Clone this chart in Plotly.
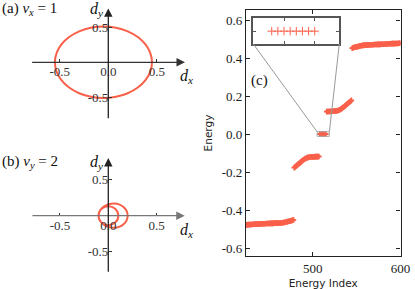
import plotly.graph_objects as go

# ---------------- data ----------------
# panel (a): d-vector curve, winding nu_x = 1
curve_a_dx = [0.450, 0.433, 0.383, 0.304, 0.200, 0.079, -0.050, -0.179, -0.300, -0.404, -0.483, -0.533,
              -0.550, -0.533, -0.483, -0.404, -0.300, -0.179, -0.050, 0.079, 0.200, 0.304, 0.383, 0.433, 0.450]
curve_a_dy = [0.000, 0.132, 0.255, 0.361, 0.442, 0.493, 0.510, 0.493, 0.442, 0.361, 0.255, 0.132,
              0.000, -0.132, -0.255, -0.361, -0.442, -0.493, -0.510, -0.493, -0.442, -0.361, -0.255, -0.132, 0.000]

# panel (b): d-vector curve, winding nu_y = 2
curve_b_dx = [0.200, 0.160, 0.061, -0.043, -0.098, -0.080, -0.007, 0.071, 0.104,
              0.071, -0.007, -0.080, -0.098, -0.043, 0.061, 0.160, 0.200]
curve_b_dy = [0.000, 0.116, 0.168, 0.129, 0.025, -0.083, -0.132, -0.096, 0.000,
              0.096, 0.132, 0.083, -0.025, -0.129, -0.168, -0.116, 0.000]

# panel (c): energies vs index
band1_start = 424
band1_energy = [-0.478, -0.478, -0.477, -0.477, -0.477, -0.476, -0.476, -0.476, -0.475, -0.475, -0.475,
                -0.474, -0.474, -0.474, -0.474, -0.473, -0.473, -0.473, -0.473, -0.472, -0.472, -0.472, -0.472,
                -0.471, -0.471, -0.471, -0.471, -0.470, -0.470, -0.470, -0.470, -0.470, -0.469, -0.469, -0.469,
                -0.469, -0.469, -0.468, -0.468, -0.468, -0.468, -0.467, -0.467, -0.466, -0.465, -0.464, -0.463,
                -0.461, -0.460, -0.459, -0.458, -0.457, -0.456, -0.454, -0.452]
band2_start = 479
band2_energy = [-0.177, -0.173, -0.169, -0.165, -0.161, -0.157, -0.153, -0.149, -0.145, -0.141,
                -0.137, -0.134, -0.131, -0.128, -0.126, -0.124, -0.123, -0.122, -0.121, -0.121,
                -0.120, -0.120, -0.120, -0.120, -0.119, -0.119, -0.119, -0.119, -0.118]
zero_start = 508
zero_energy = [0.0, 0.0, 0.0, 0.0, 0.0, 0.0, 0.0, 0.0]
band3_start = 516
band3_energy = [0.118, 0.119, 0.119, 0.119, 0.119, 0.120, 0.120, 0.120, 0.120, 0.121,
                0.121, 0.122, 0.123, 0.124, 0.126, 0.128, 0.131, 0.134, 0.137, 0.141,
                0.145, 0.149, 0.153, 0.157, 0.161, 0.165, 0.169, 0.173, 0.177]
band4_start = 545
band4_energy = [0.452, 0.454, 0.456, 0.457, 0.458, 0.459, 0.460, 0.461, 0.463, 0.464,
                0.465, 0.466, 0.467, 0.467, 0.468, 0.468, 0.468, 0.469, 0.469, 0.469,
                0.469, 0.470, 0.470, 0.470, 0.470, 0.471, 0.471, 0.471, 0.471, 0.472,
                0.472, 0.472, 0.472, 0.473, 0.473, 0.473, 0.473, 0.474, 0.474, 0.474,
                0.474, 0.475, 0.475, 0.475, 0.475, 0.476, 0.476, 0.476, 0.476, 0.477,
                0.477, 0.477, 0.477, 0.478, 0.478, 0.478]

d_ticks_x = [-0.5, 0.0, 0.5]
d_ticklabels_x = ["-0.5", "0.0", "0.5"]
d_ticks_y = [-0.5, 0.5]
d_ticklabels_y = ["-0.5", "0.5"]
energy_ticks = [-0.6, -0.4, -0.2, 0.0, 0.2, 0.4, 0.6]
energy_ticklabels = ["-0.6", "-0.4", "-0.2", "0.0", "0.2", "0.4", "0.6"]
index_ticks = [500, 600]
inset_xticks = [510, 515]
inset_yticks = [0.0]

# ---------------- layout constants ----------------
W, H = 415, 289
RED = "#f9604a"
SERIF = "Liberation Serif, DejaVu Serif, serif"
SANS = "DejaVu Sans, sans-serif"


def fx(p):
    return p / W


def fy(p):
    return 1 - p / H


dom_a_x = [fx(25.8), fx(190.8)]
dom_a_y = [fy(121.8), fy(2.8)]
dom_b_x = [fx(26.1), fx(190.5)]
dom_b_y = [fy(276.9), fy(154.5)]
dom_c_x = [fx(246), fx(400.5)]
dom_c_y = [fy(256), fy(10)]
dom_i_x = [fx(253.3), fx(339.3)]
dom_i_y = [fy(44), fy(18.3)]

rng_d = [-0.85, 0.85]
rng_c_x = [424, 600]
rng_c_y = [-0.642, 0.653]
rng_i_x = [505, 519]
rng_i_y = [-1, 1]
box_half_h = 0.012

fig = go.Figure()

# panels (a), (b)
fig.add_trace(go.Scatter(x=curve_a_dx, y=curve_a_dy, mode="lines", line=dict(color=RED, width=2, shape="spline"),
                         xaxis="x", yaxis="y", showlegend=False, hoverinfo="skip"))
fig.add_trace(go.Scatter(x=curve_b_dx, y=curve_b_dy, mode="lines", line=dict(color=RED, width=2, shape="spline"),
                         xaxis="x2", yaxis="y2", showlegend=False, hoverinfo="skip"))

# panel (c)
bands = [(band1_start, band1_energy), (band2_start, band2_energy), (zero_start, zero_energy),
         (band3_start, band3_energy), (band4_start, band4_energy)]
for start, vals in bands:
    fig.add_trace(go.Scatter(x=list(range(start, start + len(vals))), y=vals, mode="markers",
                             marker=dict(symbol="cross-thin", size=4, color=RED, line=dict(color=RED, width=1.8)),
                             xaxis="x3", yaxis="y3", showlegend=False, hoverinfo="skip"))

# inset
fig.add_trace(go.Scatter(x=list(range(zero_start, zero_start + len(zero_energy))), y=zero_energy, mode="markers",
                         marker=dict(symbol="cross-thin", size=6, color=RED, line=dict(color=RED, width=1)),
                         xaxis="x4", yaxis="y4", showlegend=False, hoverinfo="skip"))

tickfont = dict(family=SERIF, size=13, color="#222")
dfont = dict(family=SERIF, size=13, color="#333")


def d_axes(dom_x, dom_y):
    xa = dict(domain=dom_x, range=rng_d, anchor="free", position=(dom_y[0] + dom_y[1]) / 2,
              showgrid=False, zeroline=False, showline=False, tickvals=d_ticks_x, ticktext=d_ticklabels_x,
              ticks="inside", ticklen=3, tickcolor="#333", tickfont=dfont, automargin=False, fixedrange=True)
    ya = dict(domain=dom_y, range=rng_d, anchor="free", position=(dom_x[0] + dom_x[1]) / 2,
              showgrid=False, zeroline=False, showline=False, tickvals=d_ticks_y, ticktext=d_ticklabels_y,
              ticks="inside", ticklen=3, tickcolor="#333", tickfont=dfont, automargin=False, fixedrange=True)
    return xa, ya


xa, ya = d_axes(dom_a_x, dom_a_y)
xb, yb = d_axes(dom_b_x, dom_b_y)

frame = dict(showline=True, linecolor="#222", linewidth=1.2, mirror="ticks", ticks="inside", ticklen=4,
             tickcolor="#222", showgrid=False, zeroline=False, automargin=False, fixedrange=True)

fig.update_layout(
    width=W, height=H, margin=dict(l=0, r=0, t=0, b=0),
    paper_bgcolor="white", plot_bgcolor="rgba(0,0,0,0)",
    xaxis=xa, yaxis=ya, xaxis2=xb, yaxis2=yb,
    xaxis3=dict(frame, domain=dom_c_x, range=rng_c_x, anchor="y3", tickvals=index_ticks, tickfont=tickfont,
                title=dict(text="Energy Index", font=dict(family=SANS, size=10.5, color="#222"), standoff=4)),
    yaxis3=dict(frame, domain=dom_c_y, range=rng_c_y, anchor="x3", tickvals=energy_ticks,
                ticktext=energy_ticklabels, tickfont=tickfont,
                title=dict(text="Energy", font=dict(family=SANS, size=10.5, color="#222"), standoff=7)),
    xaxis4=dict(domain=dom_i_x, range=rng_i_x, anchor="y4", showline=True, linecolor="#555", linewidth=2,
                mirror="ticks", ticks="inside", ticklen=3, tickcolor="#555", tickvals=inset_xticks,
                showticklabels=False, showgrid=False, zeroline=False, automargin=False, fixedrange=True),
    yaxis4=dict(domain=dom_i_y, range=rng_i_y, anchor="x4", showline=True, linecolor="#555", linewidth=2,
                mirror="ticks", ticks="inside", ticklen=3, tickcolor="#555", tickvals=inset_yticks,
                showticklabels=False, showgrid=False, zeroline=False, automargin=False, fixedrange=True),
)


# zoom box + connectors
def c_to_paper(x, y):
    px = dom_c_x[0] + (x - rng_c_x[0]) / (rng_c_x[1] - rng_c_x[0]) * (dom_c_x[1] - dom_c_x[0])
    py = dom_c_y[0] + (y - rng_c_y[0]) / (rng_c_y[1] - rng_c_y[0]) * (dom_c_y[1] - dom_c_y[0])
    return px, py


shapes = [dict(type="rect", xref="x3", yref="y3", x0=rng_i_x[0], x1=rng_i_x[1], y0=-box_half_h, y1=box_half_h,
               line=dict(color="#aaa", width=1))]
bl = c_to_paper(rng_i_x[0], box_half_h)
br = c_to_paper(rng_i_x[1], box_half_h)
shapes.append(dict(type="line", xref="paper", yref="paper", x0=dom_i_x[0], y0=dom_i_y[0], x1=bl[0], y1=bl[1],
                   line=dict(color="#999", width=1)))
shapes.append(dict(type="line", xref="paper", yref="paper", x0=dom_i_x[1], y0=dom_i_y[0], x1=br[0], y1=br[1],
                   line=dict(color="#999", width=1)))
fig.update_layout(shapes=shapes)

# arrow axes for (a), (b)
ann = []
for xr, yr, hx, tx, hy, ty, hcol in [("x", "y", 0.79, -0.80, 0.77, -0.82, "#333"),
                                     ("x2", "y2", 0.79, -0.80, 0.80, -0.80, "#777")]:
    ann.append(dict(x=hx, y=0, ax=tx, ay=0, xref=xr, yref=yr, axref=xr, ayref=yr, text="", showarrow=True,
                    arrowhead=2, arrowsize=1.3, arrowwidth=1.3, arrowcolor=hcol, standoff=0))
    ann.append(dict(x=0, y=hy, ax=0, ay=ty, xref=xr, yref=yr, axref=xr, ayref=yr, text="", showarrow=True,
                    arrowhead=2, arrowsize=1.3, arrowwidth=1.3, arrowcolor="#222", standoff=0))

lab = dict(family=SERIF, size=16, color="#111")
ann += [
    dict(x=fx(0), y=fy(9.5), xref="paper", yref="paper", xanchor="left", yanchor="middle", showarrow=False,
         text="(a) <i>ν</i><sub><i>x</i></sub> = 1", font=dict(family=SERIF, size=15, color="#111")),
    dict(x=fx(0), y=fy(162), xref="paper", yref="paper", xanchor="left", yanchor="middle", showarrow=False,
         text="(b) <i>ν</i><sub><i>y</i></sub> = 2", font=dict(family=SERIF, size=15, color="#111")),
    dict(x=fx(96), y=fy(9), xref="paper", yref="paper", xanchor="center", yanchor="middle", showarrow=False,
         text="<i>d</i><sub><i>y</i></sub>", font=lab),
    dict(x=fx(186), y=fy(76), xref="paper", yref="paper", xanchor="center", yanchor="middle", showarrow=False,
         text="<i>d</i><sub><i>x</i></sub>", font=lab),
    dict(x=fx(96), y=fy(162), xref="paper", yref="paper", xanchor="center", yanchor="middle", showarrow=False,
         text="<i>d</i><sub><i>y</i></sub>", font=lab),
    dict(x=fx(186), y=fy(230), xref="paper", yref="paper", xanchor="center", yanchor="middle", showarrow=False,
         text="<i>d</i><sub><i>x</i></sub>", font=lab),
    dict(x=fx(259.5), y=fy(80), xref="paper", yref="paper", xanchor="center", yanchor="middle", showarrow=False,
         text="(c)", font=dict(family=SERIF, size=15, color="#111")),
]
fig.update_layout(annotations=ann)

fig.write_html("out.html", config={"displayModeBar": False},
               post_script="document.body.style.margin='0';document.body.style.overflow='hidden';")
